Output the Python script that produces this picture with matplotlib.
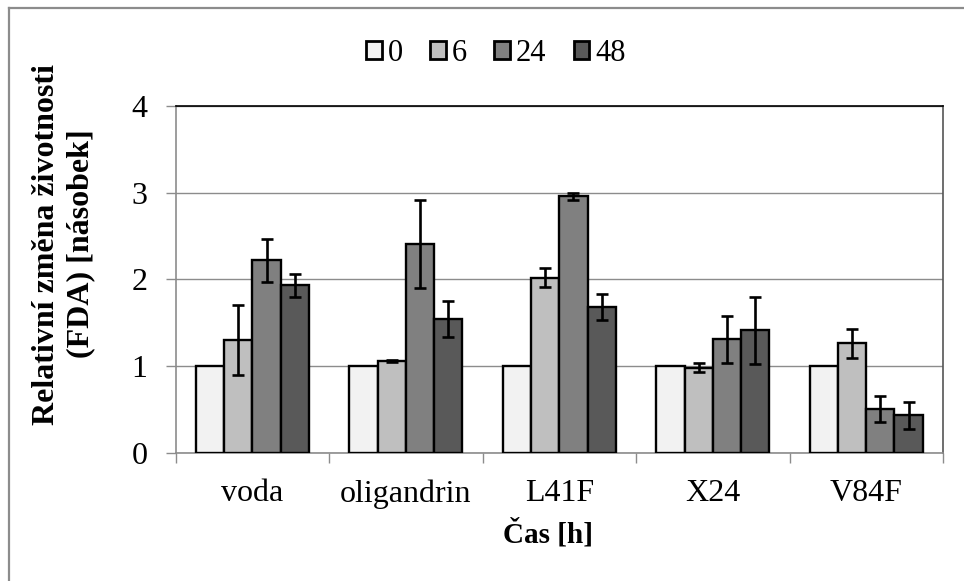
import numpy as np
import matplotlib
matplotlib.use('Agg')
import matplotlib.pyplot as plt
from matplotlib.lines import Line2D

plt.rcParams['font.family'] = ['Liberation Serif', 'DejaVu Serif']

# data
categories = ['voda', 'oligandrin', 'L41F', 'X24', 'V84F']
series = ['0', '6', '24', '48']
h0 = [1.0, 1.0, 1.0, 1.0, 1.0]
h6 = [1.30, 1.055, 2.02, 0.98, 1.26]
h24 = [2.22, 2.41, 2.96, 1.31, 0.50]
h48 = [1.93, 1.545, 1.68, 1.41, 0.43]
err6 = [0.40, 0.01, 0.11, 0.05, 0.17]
err24 = [0.25, 0.51, 0.04, 0.27, 0.15]
err48 = [0.13, 0.21, 0.15, 0.39, 0.16]

values = [h0, h6, h24, h48]
errors = [None, err6, err24, err48]
colors = ['#f2f2f2', '#bfbfbf', '#808080', '#595959']

fig = plt.figure(figsize=(9.64, 5.81), dpi=100)
ax = fig.add_axes([0.1823, 0.2208, 0.7959, 0.5968])

x = np.arange(len(categories))
w = 0.184
for i in range(4):
    ax.bar(x + (i - 1.5) * w, values[i], w, color=colors[i], edgecolor='black',
           linewidth=1.7, label=series[i], zorder=3)
    if errors[i] is not None:
        ax.errorbar(x + (i - 1.5) * w, values[i], yerr=errors[i], fmt='none',
                    ecolor='black', elinewidth=1.9, capsize=4, capthick=1.9, zorder=4)

ax.set_xlim(-0.5, 4.5)
ax.set_ylim(0, 4)
ax.set_yticks([0, 1, 2, 3, 4])
ax.yaxis.grid(True, color='#8c8c8c', linewidth=1.0, zorder=0)
ax.set_axisbelow(True)

ax.set_xticks(np.arange(-0.5, 5, 1))
ax.set_xticklabels([])
ax.set_xticks(x, minor=True)
ax.set_xticklabels(categories, minor=True)
ax.tick_params(axis='x', which='major', direction='out', length=7, width=1, color='#8c8c8c')
ax.tick_params(axis='x', which='minor', length=0, pad=19, labelsize=23)
ax.tick_params(axis='y', direction='out', length=7.5, width=1, color='#8c8c8c',
               pad=13, labelsize=23)

for s in ['left', 'bottom']:
    ax.spines[s].set_color('#8c8c8c')
    ax.spines[s].set_linewidth(1.2)
ax.spines['top'].set_color('black')
ax.spines['top'].set_linewidth(1.2)
ax.spines['right'].set_color('#555555')
ax.spines['right'].set_linewidth(1.2)

leg = ax.legend(loc='center', bbox_to_anchor=(0.5145, 0.908), bbox_transform=fig.transFigure,
                ncol=4, frameon=False, fontsize=22, handlelength=0.5, handleheight=0.5,
                handletextpad=0.2, columnspacing=0.9)
for p in leg.get_patches():
    p.set_linewidth(2.0)

fig.text(0.066, 0.58, 'Relativní změna životnosti\n(FDA) [násobek]', rotation=90,
         ha='center', va='center', fontsize=23, fontweight='bold', linespacing=1.2,
         multialignment='center')
fig.text(0.568, 0.081, 'Čas [h]', ha='center', va='center', fontsize=21, fontweight='bold')

# chart area frame (only top and left visible in the original)
fig.add_artist(Line2D([9 / 964, 1], [1 - 8 / 581, 1 - 8 / 581], transform=fig.transFigure,
                      color='#8c8c8c', linewidth=1.6))
fig.add_artist(Line2D([9 / 964, 9 / 964], [0, 1 - 8 / 581], transform=fig.transFigure,
                      color='#8c8c8c', linewidth=1.6))

fig.savefig('out.png', dpi=100, facecolor='white')
